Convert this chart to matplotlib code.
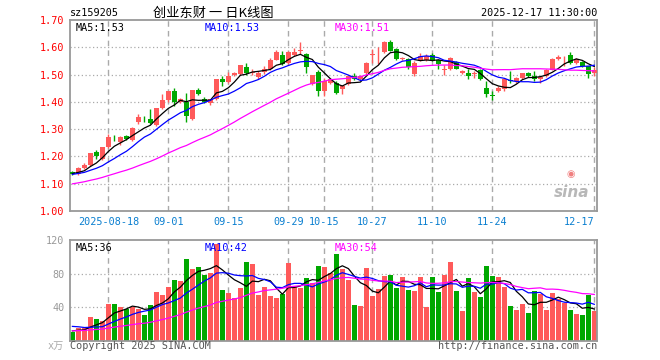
import matplotlib
matplotlib.use('Agg')
import matplotlib.pyplot as plt
import numpy as np
import pandas as pd

# daily bars 2025-08-08 .. 2025-12-17
opens = [1.142, 1.137, 1.157, 1.168, 1.217, 1.190, 1.233, 1.268, 1.254, 1.276,
         1.260, 1.328, 1.338, 1.337, 1.315, 1.376, 1.407, 1.438, 1.400, 1.400,
         1.337, 1.443, 1.412, 1.395, 1.410, 1.485, 1.471, 1.497, 1.501, 1.526,
         1.505, 1.490, 1.510, 1.520, 1.554, 1.572, 1.541, 1.572, 1.588, 1.575,
         1.464, 1.510, 1.440, 1.470, 1.470, 1.446, 1.464, 1.493, 1.485, 1.507,
         1.573, 1.574, 1.581, 1.620, 1.594, 1.557, 1.557, 1.501, 1.550, 1.553,
         1.572, 1.554, 1.515, 1.520, 1.545, 1.505, 1.505, 1.501, 1.517, 1.452,
         1.426, 1.440, 1.446, 1.479, 1.477, 1.486, 1.505, 1.493, 1.483, 1.493,
         1.517, 1.556, 1.564, 1.572, 1.544, 1.545, 1.530, 1.507]
highs = [1.146, 1.160, 1.175, 1.214, 1.224, 1.236, 1.282, 1.278, 1.275, 1.280,
         1.308, 1.354, 1.350, 1.373, 1.378, 1.428, 1.440, 1.450, 1.415, 1.434,
         1.445, 1.452, 1.418, 1.412, 1.485, 1.495, 1.510, 1.510, 1.536, 1.541,
         1.520, 1.512, 1.532, 1.560, 1.590, 1.585, 1.585, 1.596, 1.618, 1.578,
         1.500, 1.515, 1.489, 1.488, 1.477, 1.460, 1.500, 1.507, 1.500, 1.545,
         1.594, 1.600, 1.622, 1.625, 1.598, 1.563, 1.560, 1.548, 1.579, 1.575,
         1.578, 1.558, 1.535, 1.565, 1.550, 1.518, 1.520, 1.514, 1.520, 1.477,
         1.440, 1.458, 1.487, 1.514, 1.492, 1.507, 1.510, 1.514, 1.495, 1.520,
         1.560, 1.572, 1.569, 1.581, 1.560, 1.550, 1.532, 1.526]
lows = [1.132, 1.133, 1.154, 1.166, 1.190, 1.188, 1.230, 1.258, 1.242, 1.262,
        1.258, 1.318, 1.325, 1.320, 1.310, 1.372, 1.400, 1.385, 1.395, 1.327,
        1.335, 1.425, 1.395, 1.390, 1.408, 1.459, 1.468, 1.494, 1.498, 1.500,
        1.500, 1.485, 1.501, 1.518, 1.552, 1.535, 1.539, 1.568, 1.575, 1.507,
        1.460, 1.421, 1.421, 1.465, 1.428, 1.430, 1.460, 1.480, 1.480, 1.500,
        1.544, 1.538, 1.578, 1.585, 1.553, 1.555, 1.520, 1.495, 1.548, 1.548,
        1.548, 1.520, 1.500, 1.518, 1.520, 1.503, 1.483, 1.489, 1.480, 1.418,
        1.406, 1.436, 1.440, 1.470, 1.470, 1.483, 1.490, 1.477, 1.468, 1.490,
        1.515, 1.553, 1.532, 1.540, 1.540, 1.526, 1.489, 1.495]
closes = [1.137, 1.158, 1.170, 1.212, 1.203, 1.233, 1.273, 1.266, 1.273, 1.263,
          1.306, 1.343, 1.336, 1.324, 1.376, 1.407, 1.438, 1.398, 1.410, 1.349,
          1.443, 1.428, 1.400, 1.410, 1.483, 1.471, 1.495, 1.504, 1.534, 1.504,
          1.510, 1.507, 1.520, 1.553, 1.581, 1.538, 1.581, 1.581, 1.590, 1.526,
          1.498, 1.440, 1.477, 1.483, 1.433, 1.458, 1.495, 1.483, 1.493, 1.542,
          1.576, 1.577, 1.618, 1.588, 1.557, 1.560, 1.526, 1.544, 1.569, 1.568,
          1.551, 1.538, 1.522, 1.559, 1.522, 1.514, 1.493, 1.507, 1.483, 1.427,
          1.423, 1.452, 1.483, 1.476, 1.489, 1.505, 1.493, 1.483, 1.492, 1.517,
          1.557, 1.563, 1.566, 1.544, 1.557, 1.530, 1.501, 1.516]
volumes = [10.5, 15.4, 15.4, 28.7, 25.9, 23.8, 44, 44, 40.4, 38.4,
           40.4, 38.4, 30.7, 42.8, 58.6, 55, 63.8, 71.9, 70.7, 97.4,
           85.6, 88, 78.4, 80.8, 115, 60.2, 57.4, 50.5, 62.6, 94,
           91.3, 54.1, 64.6, 53.7, 50.5, 55.3, 92.9, 65.8, 62.6, 74.7,
           68.7, 88.9, 87.7, 80.8, 103.4, 86, 72.3, 43.2, 41.6, 86.5,
           52.9, 62.2, 76.8, 78, 62.6, 75.5, 61, 59.8, 75.5, 40.4,
           75.5, 58.6, 78, 93.7, 59.8, 35.6, 74.3, 58.6, 52.5, 88.9,
           76.8, 75.5, 64.6, 41.6, 36.8, 44, 33.1, 59.8, 56.2, 36.8,
           57.4, 50.1, 45.2, 36.8, 31.9, 30.7, 55, 35.6]

# earlier sessions (not drawn), only feed the moving averages
prior_closes = [1.045, 1.050, 1.055, 1.060, 1.058, 1.065, 1.070, 1.068, 1.075, 1.080,
                1.085, 1.090, 1.088, 1.095, 1.100, 1.105, 1.110, 1.108, 1.115, 1.120,
                1.125, 1.130, 1.135, 1.130, 1.138, 1.135, 1.140, 1.135, 1.138]
prior_volumes = [9, 8, 10, 11, 9, 8, 10, 12, 9, 8,
                 10, 11, 9, 10, 8, 9, 11, 10, 9, 9,
                 20, 24, 26, 22, 21, 12, 13, 12, 13]

date_labels = ['2025-08-18', '09-01', '09-15', '09-29', '10-15', '10-27', '11-10', '11-24', '12-17']
date_pos = [6, 16, 26, 36, 42, 50, 60, 70, 87]

RED = '#ff5a5a'
GREEN = '#00a800'
FRAME = '#999999'
GRID = '#aaaaaa'

n = len(closes)
x = np.arange(n)
o = np.array(opens); h = np.array(highs); l = np.array(lows); c = np.array(closes)
up = c >= o
cols = [RED if u else GREEN for u in up]

cs = pd.Series(prior_closes + closes)
vs = pd.Series(prior_volumes + volumes)
k = len(prior_closes)
ma_p = {w: cs.rolling(w, min_periods=1).mean().values[k:] for w in (5, 10, 30)}
ma_v = {w: vs.rolling(w, min_periods=1).mean().values[k:] for w in (5, 10, 30)}

plt.rcParams['font.family'] = ['DejaVu Sans Mono', 'Noto Sans CJK SC']
fig = plt.figure(figsize=(6.6, 3.6), dpi=100)
ax = fig.add_axes([70/660, 1-211/360, 527/660, 191/360])
axv = fig.add_axes([70/660, 1-341/360, 527/660, 101/360])

for a in (ax, axv):
    a.set_xlim(-0.4, 87.45)
    for s in a.spines.values():
        s.set_color(FRAME)
        s.set_linewidth(1.3)
    a.tick_params(length=0)
    for p in date_pos:
        a.axvline(p, color=GRID, lw=1, ls=(0, (4, 3)), zorder=0)

# price panel
ax.set_ylim(1.0, 1.7)
for yv in np.arange(1.1, 1.65, 0.1):
    ax.axhline(yv, color=GRID, lw=0.9, ls=(0, (1, 2)), zorder=0)
ax.vlines(x, l, h, colors=cols, lw=1, zorder=2)
body = np.maximum(np.abs(c - o), 0.0015)
ax.bar(x, body, bottom=np.minimum(o, c), width=0.78, color=cols, zorder=3, linewidth=0)
ax.plot(x, ma_p[5], color='black', lw=0.9, zorder=4)
ax.plot(x, ma_p[10], color='#0000ff', lw=0.9, zorder=4)
ax.plot(x, ma_p[30], color='#ff00ff', lw=0.9, zorder=4)
ax.set_yticks(np.arange(1.0, 1.71, 0.1))
ax.set_yticklabels(['%.2f' % v for v in np.arange(1.0, 1.71, 0.1)], color='#ff0000', fontsize=7.3)
ax.set_xticks(date_pos)
ax.set_xticklabels(date_labels, color='#0a7fd0', fontsize=7.3)
ax.tick_params(axis='x', pad=4)
ax.get_xticklabels()[-1].set_ha('right')
ax.get_xticklabels()[-1].set_x(87.2)
ax.tick_params(axis='y', pad=4)
ax.text(0.01, 0.985, 'MA5:1.53', transform=ax.transAxes, va='top', fontsize=7.3, color='black')
ax.text(0.255, 0.985, 'MA10:1.53', transform=ax.transAxes, va='top', fontsize=7.3, color='#0000ff')
ax.text(0.502, 0.985, 'MA30:1.51', transform=ax.transAxes, va='top', fontsize=7.3, color='#ff00ff')
ax.text(0.985, 0.06, 'sina', transform=ax.transAxes, ha='right', va='bottom', fontsize=11,
        fontweight='bold', style='italic', color='#b8b8b8', family='DejaVu Sans')
ax.text(0.95, 0.17, '◉', transform=ax.transAxes, ha='center', va='bottom', fontsize=7,
        color='#f08080', family='DejaVu Sans')

# volume panel
axv.set_ylim(0, 120)
for yv in (40, 80):
    axv.axhline(yv, color=GRID, lw=0.9, ls=(0, (1, 2)), zorder=0)
axv.bar(x, volumes, width=0.78, color=cols, linewidth=0, zorder=2)
axv.plot(x, ma_v[5], color='black', lw=0.9, zorder=4)
axv.plot(x, ma_v[10], color='#0000ff', lw=0.9, zorder=4)
axv.plot(x, ma_v[30], color='#ff00ff', lw=0.9, zorder=4)
axv.set_yticks([40, 80, 120])
axv.set_yticklabels(['40', '80', '120'], color='#999999', fontsize=7.3)
axv.tick_params(axis='y', pad=4)
axv.set_xticks([])
axv.text(0.01, 0.97, 'MA5:36', transform=axv.transAxes, va='top', fontsize=7.3, color='black')
axv.text(0.255, 0.97, 'MA10:42', transform=axv.transAxes, va='top', fontsize=7.3, color='#0000ff')
axv.text(0.502, 0.97, 'MA30:54', transform=axv.transAxes, va='top', fontsize=7.3, color='#ff00ff')

# header / footer text
fig.text(70/660, 1-13/360, 'sz159205', va='center', fontsize=7.3, color='black')
fig.text(213/660, 1-13/360, '创业东财 一 日K线图', ha='center', va='center', fontsize=9.5,
         color='black', family=['Noto Sans CJK SC', 'DejaVu Sans'])
fig.text(597/660, 1-13/360, '2025-12-17 11:30:00', ha='right', va='center', fontsize=7.3, color='black')
fig.text(64/660, 1-346/360, 'x万', ha='right', va='center', fontsize=7.3, color='#aaaaaa',
         family=['DejaVu Sans Mono', 'Noto Sans CJK SC'])
fig.text(70/660, 1-346/360, 'Copyright 2025 SINA.COM', va='center', fontsize=7.3, color='#555555')
fig.text(597/660, 1-346/360, 'http://finance.sina.com.cn', ha='right', va='center', fontsize=7.3, color='#555555')

fig.savefig('out.png', dpi=100)
